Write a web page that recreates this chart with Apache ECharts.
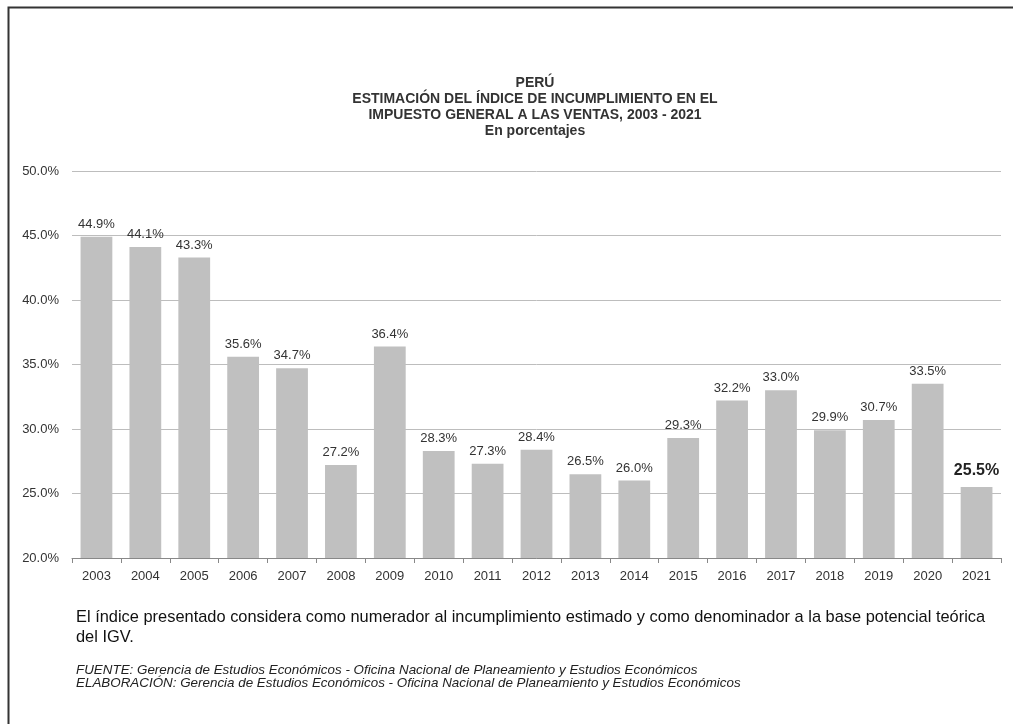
<!DOCTYPE html>
<html>
<head>
<meta charset="utf-8">
<script src="https://cdn.jsdelivr.net/npm/echarts@6/dist/echarts.min.js"></script>
<style>
  html, body { margin: 0; padding: 0; background: #fff; }
  #main { width: 1013px; height: 724px; }
</style>
</head>
<body>
<div id="main"></div>
<script>
// categorias y valores
var years = ['2003', '2004', '2005', '2006', '2007', '2008', '2009', '2010', '2011', '2012',
             '2013', '2014', '2015', '2016', '2017', '2018', '2019', '2020', '2021'];
var indice = [44.9, 44.1, 43.3, 35.6, 34.7, 27.2, 36.4, 28.3, 27.3, 28.4,
              26.5, 26.0, 29.3, 32.2, 33.0, 29.9, 30.7, 33.5, 25.5];
var titleLines = ['PERÚ',
                  'ESTIMACIÓN DEL ÍNDICE DE INCUMPLIMIENTO EN EL',
                  'IMPUESTO GENERAL A LAS VENTAS, 2003 - 2021',
                  'En porcentajes'];
var nota = ['El índice presentado considera como numerador al incumplimiento estimado y como denominador a la base potencial teórica',
            'del IGV.'];
var fuentes = ['FUENTE: Gerencia de Estudios Económicos - Oficina Nacional de Planeamiento y Estudios Económicos',
               'ELABORACIÓN: Gerencia de Estudios Económicos - Oficina Nacional de Planeamiento y Estudios Económicos'];

function DrawBars() {
    var chart = echarts.init(document.getElementById('main'));
    var font = '"Liberation Sans", Arial, sans-serif';

    var barData = indice.map(function (v, i) {
        if (i === indice.length - 1) {
            // el ultimo dato va resaltado
            return {
                value: v,
                label: { fontSize: 16, fontWeight: 'bold', color: '#222', distance: 8 }
            };
        }
        return v;
    });

    var option = {
        backgroundColor: '#fff',
        textStyle: { fontFamily: font },
        title: {
            text: titleLines.join('\n'),
            left: 530,
            top: 70,
            textAlign: 'center',
            textStyle: {
                fontFamily: font,
                fontSize: 14,
                fontWeight: 'bold',
                color: '#333',
                lineHeight: 16
            }
        },
        grid: {
            left: 72,
            right: 12,
            top: 171,
            height: 387
        },
        xAxis: {
            type: 'category',
            data: years,
            axisLine: { lineStyle: { color: '#888', width: 1 } },
            axisTick: { show: true, length: 5, lineStyle: { color: '#888' } },
            axisLabel: { color: '#333', fontSize: 13, margin: 12, fontFamily: font }
        },
        yAxis: {
            type: 'value',
            min: 20,
            max: 50,
            interval: 5,
            axisLine: { show: false },
            axisTick: { show: false },
            splitLine: { lineStyle: { color: '#bdbdbd', width: 1 } },
            axisLabel: {
                color: '#333',
                fontSize: 13,
                margin: 13,
                fontFamily: font,
                formatter: function (v) { return v.toFixed(1) + '%'; }
            }
        },
        series: [
            {
                type: 'bar',
                data: barData,
                barWidth: '65%',
                itemStyle: { color: '#c0c0c0' },
                label: {
                    show: true,
                    position: 'top',
                    distance: 6,
                    color: '#333',
                    fontSize: 13,
                    fontFamily: font,
                    formatter: function (p) { return p.value.toFixed(1) + '%'; }
                }
            }
        ],
        graphic: [
            {
                type: 'rect',
                shape: { x: 8.5, y: 7.5, width: 1030, height: 740 },
                style: { fill: 'none', stroke: '#333', lineWidth: 2 }
            },
            {
                type: 'text',
                x: 76,
                y: 607,
                scaleX: 0.965,
                style: {
                    text: nota.join('\n'),
                    font: '17px ' + font,
                    fill: '#111',
                    lineHeight: 20,
                    verticalAlign: 'top'
                }
            },
            {
                type: 'text',
                x: 76,
                y: 664,
                scaleX: 1.03,
                style: {
                    text: fuentes.join('\n'),
                    font: 'italic 13px ' + font,
                    fill: '#222',
                    lineHeight: 13,
                    verticalAlign: 'top'
                }
            }
        ]
    };

    chart.setOption(option);
}

DrawBars();
</script>
</body>
</html>
